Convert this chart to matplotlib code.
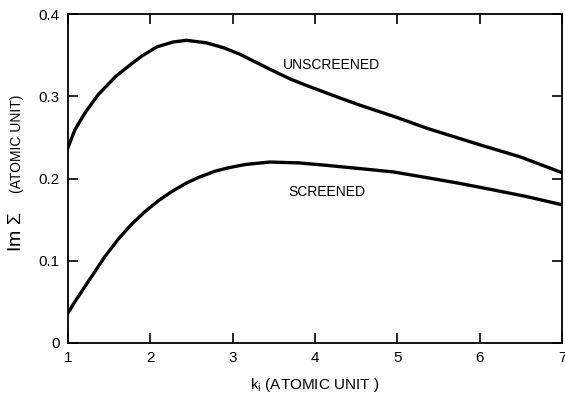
import matplotlib
matplotlib.use("Agg")
import matplotlib.pyplot as plt

plt.rcParams['font.family'] = ['Liberation Sans', 'DejaVu Sans']
plt.rcParams['mathtext.fontset'] = 'custom'
plt.rcParams['mathtext.rm'] = 'Liberation Sans'

# valores
k_unscr = [1.0, 1.085, 1.21, 1.37, 1.58, 1.78, 1.90, 2.08, 2.28, 2.44, 2.68, 2.89, 3.09,
           3.29, 3.49, 3.70, 3.90, 4.10, 4.30, 4.55, 5.0, 5.36, 6.0, 6.5, 7.0]
im_unscr = [0.237, 0.259, 0.280, 0.302, 0.324, 0.340, 0.349, 0.360, 0.366, 0.368, 0.365, 0.359, 0.351,
            0.341, 0.331, 0.321, 0.313, 0.3055, 0.298, 0.289, 0.274, 0.261, 0.241, 0.226, 0.207]

k_scr = [1.0, 1.085, 1.21, 1.33, 1.45, 1.61, 1.77, 1.94, 2.10, 2.26, 2.43, 2.58, 2.79, 2.95,
         3.15, 3.45, 3.80, 4.14, 4.55, 4.95, 5.36, 5.76, 6.17, 6.57, 7.0]
im_scr = [0.036, 0.050, 0.069, 0.087, 0.105, 0.126, 0.144, 0.160, 0.173, 0.184, 0.194, 0.201, 0.209, 0.213,
          0.217, 0.220, 0.219, 0.216, 0.212, 0.208, 0.201, 0.194, 0.186, 0.178, 0.168]

xticks = [1, 2, 3, 4, 5, 6, 7]
yticks = [0, 0.1, 0.2, 0.3, 0.4]
ytick_labels = ['0', '0.1', '0.2', '0.3', '0.4']

fig = plt.figure(figsize=(5.65, 4.0), dpi=100)
ax = fig.add_axes([0.120, 0.1425, 0.875, 0.8225])

ax.plot(k_unscr, im_unscr, color='black', lw=2.4, solid_joinstyle='round')
ax.plot(k_scr, im_scr, color='black', lw=2.4, solid_joinstyle='round')

ax.set_xlim(1, 7)
ax.set_ylim(0, 0.4)
ax.set_xticks(xticks)
ax.set_xticklabels([str(v) for v in xticks])
ax.set_yticks(yticks)
ax.set_yticklabels(ytick_labels)
ax.tick_params(direction='in', length=7, width=1.2, top=True, right=True,
               labelsize=11, pad=6)
for s in ax.spines.values():
    s.set_linewidth(1.3)

ax.text(4.2, 0.338, 'UNSCREENED', ha='center', va='center', fontsize=10)
ax.text(4.14, 0.183, 'SCREENED', ha='center', va='center', fontsize=10)

ax.set_xlabel(r'k$_\mathregular{i}$ (ATOMIC UNIT )', fontsize=11, labelpad=8)
fig.text(0.030, 0.42, r'Im $\Sigma$', rotation=90, ha='center', va='center', fontsize=14)
fig.text(0.030, 0.64, '(ATOMIC UNIT)', rotation=90, ha='center', va='center', fontsize=10)

fig.savefig('out.png', dpi=100)
